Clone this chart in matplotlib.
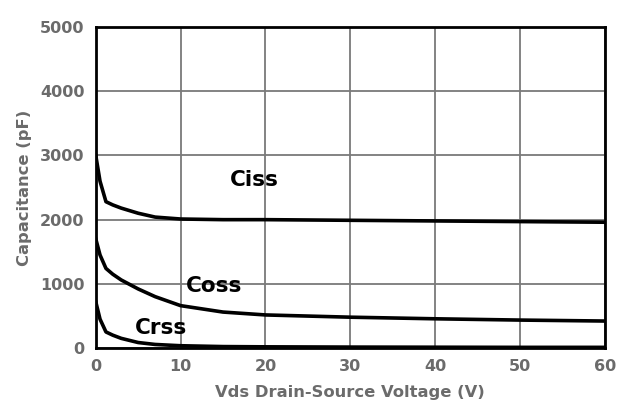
import matplotlib.pyplot as plt

# values
vds = [0, 0.5, 1.2, 2, 3, 5, 7, 10, 15, 20, 30, 40, 50, 60]
ciss = [3000, 2600, 2280, 2230, 2180, 2100, 2040, 2010, 2000, 2000, 1990, 1980, 1970, 1960]
coss = [1700, 1450, 1240, 1150, 1060, 920, 800, 660, 560, 515, 480, 455, 435, 420]
crss = [720, 450, 250, 200, 150, 85, 55, 35, 22, 18, 14, 12, 10, 10]

xticks = [0, 10, 20, 30, 40, 50, 60]
yticks = [0, 1000, 2000, 3000, 4000, 5000]

grey = '#6b6b6b'

fig = plt.figure(figsize=(6.26, 4.18), dpi=100)
ax = fig.add_axes([0.153, 0.1675, 0.813, 0.7675])

ax.plot(vds, ciss, color='black', linewidth=2.6)
ax.plot(vds, coss, color='black', linewidth=2.6)
ax.plot(vds, crss, color='black', linewidth=2.6)

ax.text(18.7, 2620, 'Ciss', fontsize=15.5, fontweight='bold', ha='center', va='center')
ax.text(14, 970, 'Coss', fontsize=15.5, fontweight='bold', ha='center', va='center')
ax.text(7.7, 310, 'Crss', fontsize=15.5, fontweight='bold', ha='center', va='center')

ax.set_xlim(0, 60)
ax.set_ylim(0, 5000)
ax.set_xticks(xticks)
ax.set_yticks(yticks)
ax.grid(True, color='#7a7a7a', linewidth=1.3)
ax.set_axisbelow(True)

for s in ax.spines.values():
    s.set_linewidth(2)
    s.set_color('black')

ax.tick_params(length=0, pad=8, labelsize=11.5, labelcolor=grey)
for lbl in ax.get_xticklabels() + ax.get_yticklabels():
    lbl.set_fontweight('bold')

ax.set_xlabel('Vds Drain-Source Voltage (V)', fontsize=11.8, fontweight='bold', color=grey, labelpad=8)
ax.set_ylabel('Capacitance (pF)', fontsize=11.8, fontweight='bold', color=grey, labelpad=6)

fig.savefig('out.png', dpi=100)
